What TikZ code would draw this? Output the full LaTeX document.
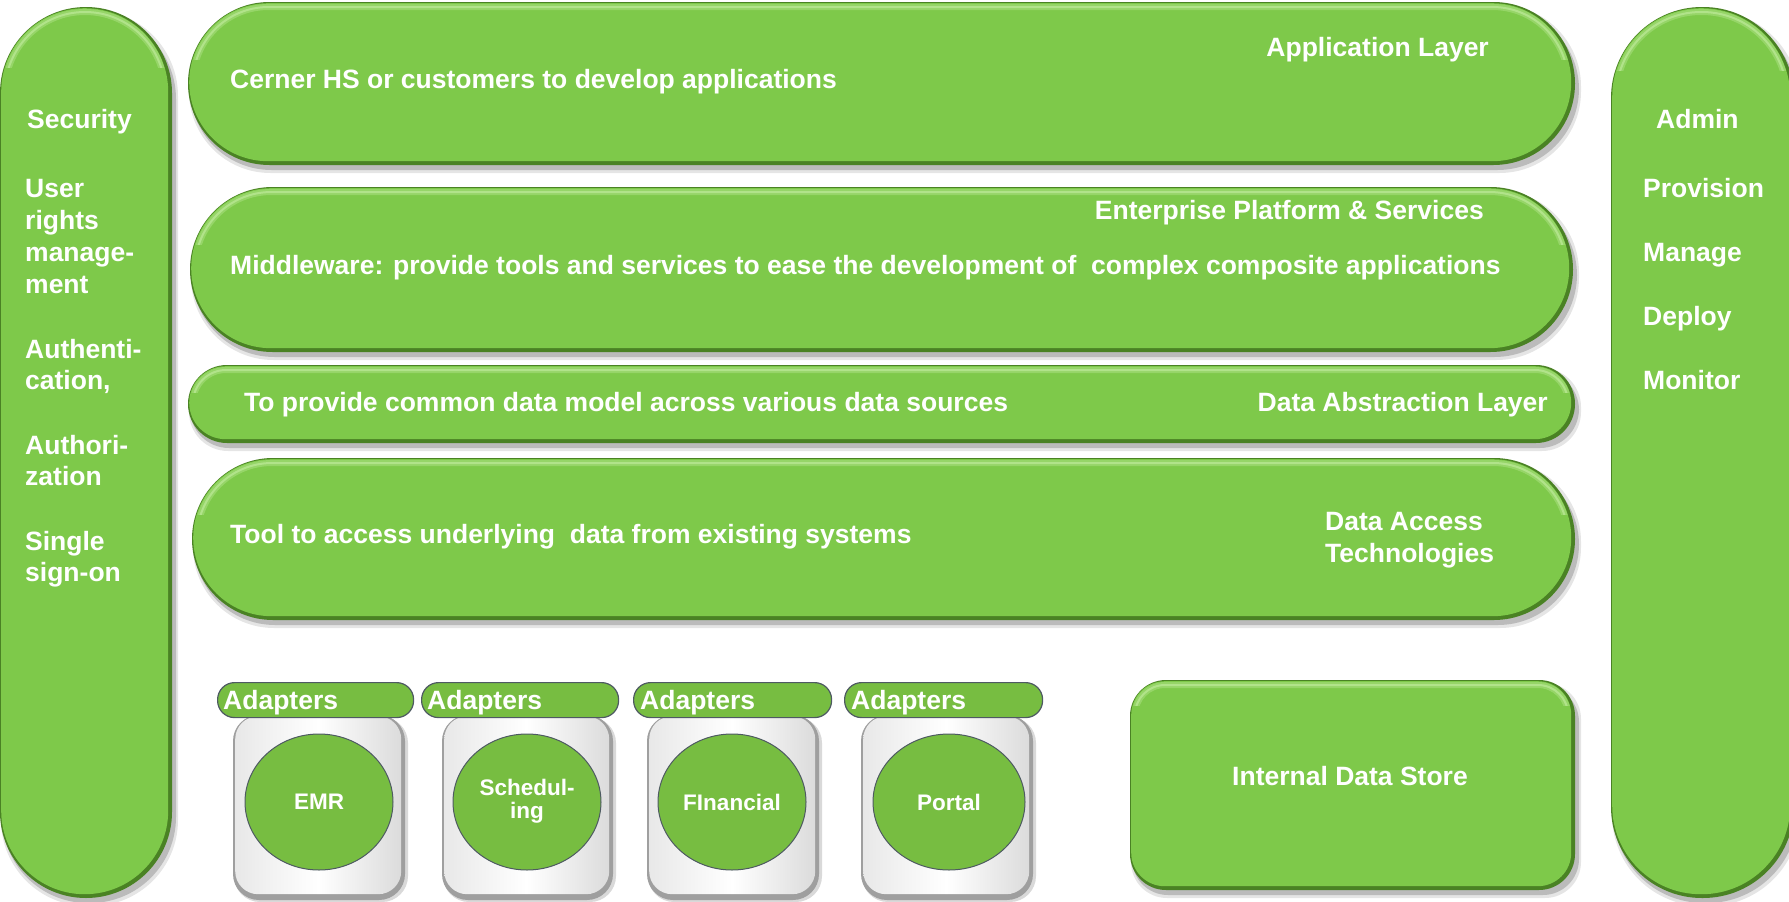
\documentclass[tikz,border=0pt]{standalone}
\usepackage{fontspec}
\setmainfont{Liberation Sans}
\usetikzlibrary{shapes.geometric}
\definecolor{pillgreen}{HTML}{7EC94A}
\definecolor{pilldark}{HTML}{4A8224}
\definecolor{pilllight}{HTML}{C4EDA2}
\definecolor{adgreen}{HTML}{77BD41}
\definecolor{adedge}{HTML}{4E5A62}
\tikzset{
  lbl/.style={text=white,font=\bfseries\fontsize{26.5}{31}\selectfont,inner sep=0},
  clbl/.style={text=white,font=\bfseries\fontsize{22.5}{23}\selectfont,align=center},
  tabshape/.style={fill=adgreen,draw=adedge,line width=1.2pt,rounded corners=17pt,inner sep=0,minimum height=35pt},
  circshape/.style={ellipse,fill=adgreen,draw=adedge,line width=1pt,inner sep=0,minimum width=148pt,minimum height=136pt},
}
% name, x1, y1, x2, y2, radius
\newcommand\pill[6]{%
  \pgfmathsetmacro\pw{#4-#2-5}%
  \pgfmathsetmacro\ph{#5-#3-5}%
  \pgfmathsetmacro\pr{#6-2.5}%
  \pgfmathsetmacro\hr{max(#6-6,1)}%
  \pgfmathsetmacro\cl{#3+min(#6,(#5-#3)/2)*0.7}%
  \fill[black,opacity=.18,rounded corners=#6pt] (#2+2,#3+6) rectangle (#4+4,#5+5);
  \fill[black,opacity=.10,rounded corners=#6pt] (#2+1,#3+3) rectangle (#4+6,#5+8);
  \fill[pilldark,rounded corners=#6pt] (#2,#3) rectangle (#4,#5);
  \node[fill=pillgreen,rounded corners=\pr pt,minimum width=\pw pt,minimum height=\ph pt,inner sep=0,anchor=north west] (#1) at (#2+1,#3+1) {};
  \begin{scope}
    \clip (#2,#3) rectangle (#4,\cl);
    \draw[pilllight,opacity=.35,line width=6pt,rounded corners=\hr pt] (#2+5,#3+5) rectangle (#4-7,#5-7);
    \draw[pilllight,opacity=.6,line width=2pt,rounded corners=\hr pt] (#2+5,#3+5) rectangle (#4-7,#5-7);
  \end{scope}
}
% name, x1, y1, x2, y2
\newcommand\gbox[5]{%
  \pgfmathsetmacro\bw{#4-#2-6}%
  \pgfmathsetmacro\bh{#5-#3-7}%
  \fill[black,opacity=.15,rounded corners=26pt] (#2+1,#3+2) rectangle (#4+3,#5+2);
  \fill[gray!75,rounded corners=26pt] (#2,#3) rectangle (#4,#5);
  \node[left color=gray!18,right color=gray!28,middle color=white,rounded corners=23pt,minimum width=\bw pt,minimum height=\bh pt,inner sep=0,anchor=north west] (#1) at (#2+2,#3+1) {};
}
\begin{document}
\begin{tikzpicture}[x=1pt,y=-1pt]
\useasboundingbox (0,0) rectangle (1789,902);
\fill[white] (0,0) rectangle (1789,902);

% side pillars
\pill{sec}{0}{7}{172}{898}{86}
\pill{adm}{1611}{7}{1794}{898}{91}

% layers
\pill{app}{188}{2}{1575}{165}{81.5}
\pill{mid}{190}{187}{1573}{352}{82.5}
\pill{dal}{188}{365}{1575}{443}{39}
\pill{dat}{192}{458}{1575}{620}{81}
\pill{ids}{1130}{680}{1575}{890}{36}

% texts in layers
\node[lbl,anchor=base east] (tapp) at (1489,56) {Application Layer};
\node[lbl,anchor=base west] (tcer) at (230,88) {Cerner HS or customers to develop applications};
\node[lbl,anchor=base east] (tent) at (1484,219) {Enterprise Platform \& Services};
\node[lbl,anchor=base west] (tmid) at (230,274) {Middleware: provide tools and services to ease the development of~ complex composite applications};
\node[lbl,anchor=base west] (tcom) at (244,411) {To provide common data model across various data sources};
\node[lbl,anchor=base east] (tdal) at (1548,411) {Data Abstraction Layer};
\node[lbl,anchor=base west] (ttool) at (230,543) {Tool to access underlying~ data from existing systems};
\node[lbl,anchor=base west] (tdat1) at (1325,530) {Data Access};
\node[lbl,anchor=base west] (tdat2) at (1325,562) {Technologies};
\node[lbl] (tids) at (1350,776) {Internal Data Store};

% left column
\node[lbl,anchor=base west] (s1) at (27,128) {Security};
\node[lbl,anchor=base west] (s2) at (25,197) {User};
\node[lbl,anchor=base west] (s3) at (25,229) {rights};
\node[lbl,anchor=base west] (s4) at (25,261) {manage-};
\node[lbl,anchor=base west] (s5) at (25,293) {ment};
\node[lbl,anchor=base west] (s6) at (25,358) {Authenti-};
\node[lbl,anchor=base west] (s7) at (25,389) {cation,};
\node[lbl,anchor=base west] (s8) at (25,454) {Authori-};
\node[lbl,anchor=base west] (s9) at (25,485) {zation};
\node[lbl,anchor=base west] (s10) at (25,550) {Single};
\node[lbl,anchor=base west] (s11) at (25,581) {sign-on};

% right column
\node[lbl,anchor=base west] (a1) at (1656,128) {Admin};
\node[lbl,anchor=base west] (a2) at (1643,197) {Provision};
\node[lbl,anchor=base west] (a3) at (1643,261) {Manage};
\node[lbl,anchor=base west] (a4) at (1643,325) {Deploy};
\node[lbl,anchor=base west] (a5) at (1643,389) {Monitor};

% adapters
\gbox{box1}{233}{715}{405}{900}
\gbox{box2}{442}{715}{613}{900}
\gbox{box3}{647}{715}{819}{900}
\gbox{box4}{861}{715}{1033}{900}

\node[tabshape,minimum width=196pt,anchor=north west] (tab1) at (217,682) {};
\node[tabshape,minimum width=197pt,anchor=north west] (tab2) at (421,682) {};
\node[tabshape,minimum width=198pt,anchor=north west] (tab3) at (633,682) {};
\node[tabshape,minimum width=198pt,anchor=north west] (tab4) at (844,682) {};
\node[lbl,anchor=base west] (ttab1) at (223,709) {Adapters};
\node[lbl,anchor=base west] (ttab2) at (427,709) {Adapters};
\node[lbl,anchor=base west] (ttab3) at (640,709) {Adapters};
\node[lbl,anchor=base west] (ttab4) at (851,709) {Adapters};

\node[circshape] (emr) at (319,802) {};
\node[circshape] (sch) at (527,802) {};
\node[circshape] (fin) at (732,802) {};
\node[circshape,minimum width=152pt] (por) at (949,802) {};
\node[clbl] (temr) at (emr) {EMR};
\node[clbl] (tsch) at (527,801) {Schedul-\\ing};
\node[clbl] (tfin) at (fin) {FInancial};
\node[clbl] (tpor) at (por) {Portal};
\end{tikzpicture}
\end{document}
